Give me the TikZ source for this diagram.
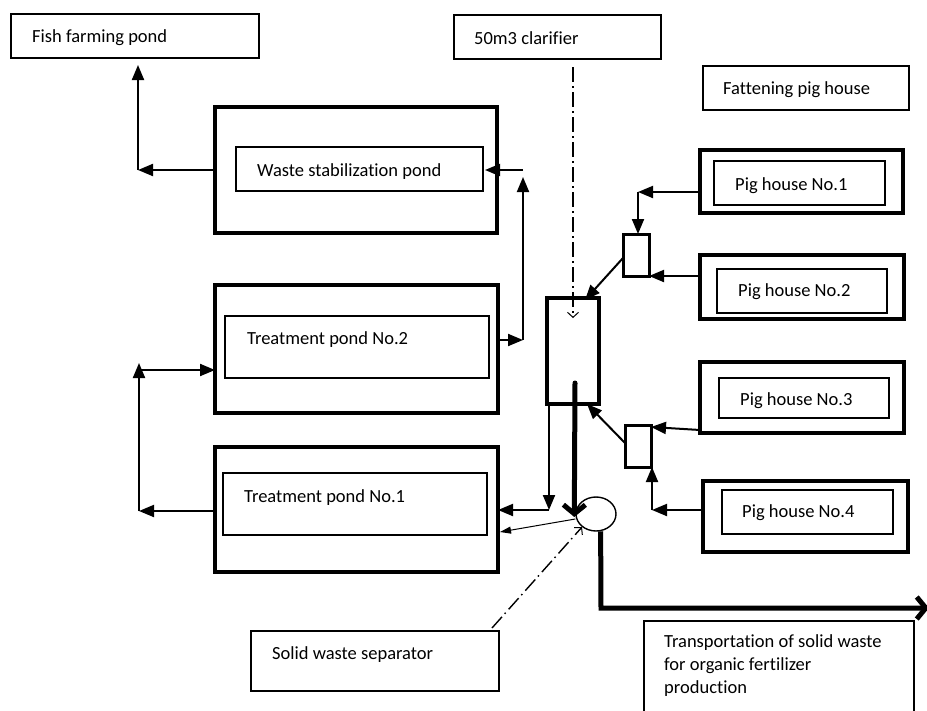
\documentclass[tikz,border=0pt]{standalone}
\usepackage{fontspec}
\setmainfont{Carlito}[Ligatures=NoCommon]
\usetikzlibrary{arrows.meta,calc,shapes.geometric}

\tikzset{
  box/.style={draw, inner sep=0pt, outer sep=0pt},
  outerbox/.style={box, line width=3.6pt},
  innerbox/.style={box, line width=1.3pt},
  labelbox/.style={box, line width=1.3pt},
  tank/.style={box, line width=3pt},
  txt/.style={anchor=base west, inner sep=0pt, font=\fontsize{18.5}{23}\selectfont, align=left},
  flow/.style={line width=2pt, -{Triangle[length=15pt,width=12pt]}},
  thinflow/.style={line width=1pt, -{Triangle[length=11pt,width=7pt]}},
  heavy/.style={line width=5pt, line cap=round, line join=miter},
  heavytip/.style={-{Straight Barb[length=9pt,width=22pt]}},
  pointer/.style={line width=1.4pt, dash pattern=on 15pt off 4pt on 1.5pt off 4.5pt,
    -{Straight Barb[length=5pt,width=11pt,line width=1pt]}}
}

\begin{document}
\begin{tikzpicture}[x=1pt,y=-1pt]
\useasboundingbox (0,0) rectangle (927,710);

% label boxes
\node[labelbox, minimum width=248pt, minimum height=44pt] (fish) at (135,36) {};
\node[txt] (fisht) at (32,42) {Fish farming pond};
\node[labelbox, minimum width=207pt, minimum height=44pt] (clarl) at (557.5,37) {};
\node[txt] (clarlt) at (474,44) {50m3 clarifier};
\node[labelbox, minimum width=206pt, minimum height=44pt] (fat) at (806,88) {};
\node[txt] (fatt) at (723,94) {Fattening pig house};

% ponds
\node[outerbox, minimum width=282pt, minimum height=126pt] (wsp) at (356,170) {};
\node[innerbox, minimum width=247pt, minimum height=44pt] (wspi) at (359.5,169) {};
\node[txt] (wspt) at (257,176) {Waste stabilization pond};

\node[outerbox, minimum width=283pt, minimum height=128pt] (tp2) at (356.5,349) {};
\node[innerbox, minimum width=264pt, minimum height=62pt] (tp2i) at (357,347) {};
\node[txt] (tp2t) at (247,344) {Treatment pond No.2};

\node[outerbox, minimum width=283pt, minimum height=125pt] (tp1) at (356.5,509.5) {};
\node[innerbox, minimum width=264pt, minimum height=62pt] (tp1i) at (355,504) {};
\node[txt] (tp1t) at (244,502) {Treatment pond No.1};

% pig houses
\node[outerbox, minimum width=203pt, minimum height=63pt] (ph1) at (801.5,181.5) {};
\node[innerbox, minimum width=171pt, minimum height=44pt] (ph1i) at (799.5,183) {};
\node[txt] (ph1t) at (735,190) {Pig house No.1};

\node[outerbox, minimum width=204pt, minimum height=64pt] (ph2) at (802,287) {};
\node[innerbox, minimum width=170pt, minimum height=44pt] (ph2i) at (802,291) {};
\node[txt] (ph2t) at (738,296) {Pig house No.2};

\node[outerbox, minimum width=204pt, minimum height=71pt] (ph3) at (802,397.5) {};
\node[innerbox, minimum width=170pt, minimum height=40pt] (ph3i) at (804,398) {};
\node[txt] (ph3t) at (740,405) {Pig house No.3};

\node[outerbox, minimum width=205pt, minimum height=71pt] (ph4) at (805.5,516.5) {};
\node[innerbox, minimum width=171pt, minimum height=44pt] (ph4i) at (807.5,512) {};
\node[txt] (ph4t) at (742,517) {Pig house No.4};

% collecting tanks, clarifier and separator
\node[tank, minimum width=26pt, minimum height=42pt] (sb1) at (636,255) {};
\node[tank, minimum width=26pt, minimum height=42pt] (sb2) at (638,446) {};
\node[outerbox, line width=3.4pt, minimum width=52pt, minimum height=106pt] (clar) at (573,351) {};
\node[draw, ellipse, line width=1.4pt, inner sep=0pt, minimum width=40pt, minimum height=34pt] (sep) at (596,514) {};

% bottom label boxes
\node[labelbox, minimum width=248pt, minimum height=60pt] (sws) at (375,661) {};
\node[txt] (swst) at (272,659) {Solid waste separator};
\node[labelbox, minimum width=270pt, minimum height=109pt] (trans) at (779,675.5) {};
\node[txt, anchor=north west] (transt) at (664,634) {Transportation of solid waste\\for organic fertilizer\\production};

% bend points
\coordinate (b1) at (138,170);
\coordinate (b2) at (523,340);
\coordinate (b3) at (523,170);
\coordinate (w1) at (485,170);
\coordinate (b4) at (139,511);
\coordinate (b5) at (139,370);
\coordinate (b6) at (638,192);
\coordinate (b7) at (652,510);
\coordinate (b8) at (549,510);
\coordinate (b9) at (601,608);
\coordinate (b10) at (929,608);
\coordinate (d1) at (573,67);

% stabilization pond to fish pond
\draw[flow] (wsp.west) -- (b1);
\draw[flow, shorten >=7pt] (b1) -- (b1 |- fish.south);
% treatment pond No.2 to stabilization pond
\draw[flow] (tp2.east |- b2) -- (b2);
\draw[flow] (b2) -- ([yshift=-7pt]b3);
\draw[flow] (b3) -- (w1);
% recirculation between the treatment ponds
\draw[flow] (tp1.west |- b4) -- (b4);
\draw[flow] (b4) -- ([yshift=7pt]b5);
\draw[flow] (b5) -- (tp2.west |- b5);

% pig houses to collecting tanks
\draw[flow] (ph1.west |- b6) -- (b6);
\draw[flow] (b6) -- (b6 |- sb1.north);
\draw[flow] (ph2.west |- sb1.south east) -- (sb1.south east);
\draw[flow] ([yshift=3pt]ph3.south west) -- ([yshift=-2pt]sb2.north east);
\draw[flow] (ph4.west |- b7) -- (b7);
\draw[flow] (b7) -- (b7 |- sb2.south);

% collecting tanks to clarifier
\draw[flow] ([yshift=-3pt]sb1.west) -- ([xshift=-14pt,yshift=-2pt]clar.north east);
\draw[flow] ([yshift=3pt]sb2.west) -- ([xshift=-12pt]clar.south east);

% clarifier to treatment pond No.1
\draw[flow] (b8 |- clar.south) -- (b8);
\draw[flow] (b8) -- (tp1.east |- b8);

% sludge to separator and solid waste out
\draw[heavy, heavytip] ([xshift=2pt,yshift=21pt]clar.south) -- ([xshift=-1pt,yshift=-3pt]sep.west);
\draw[thinflow] ([yshift=-5pt]sep.west) -- ([xshift=2pt,yshift=-22.5pt]tp1.east);
\draw[heavy, line cap=butt, heavytip] (sep.-75) -- (b9) -- (b10);

% callout pointers
\draw[pointer] (d1) -- ([yshift=-20pt]clar.north);
\draw[pointer] ([xshift=-7pt,yshift=3pt]sws.north east) -- (sep.223);
\end{tikzpicture}
\end{document}
